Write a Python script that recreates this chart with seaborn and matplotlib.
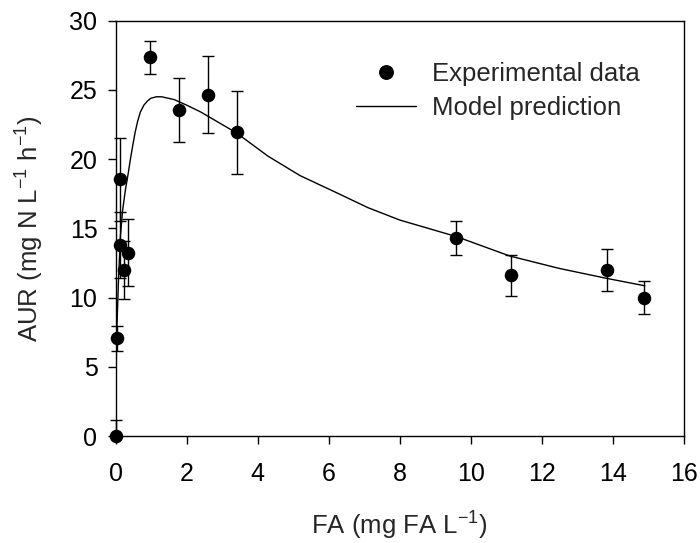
import numpy as np
import pandas as pd
import matplotlib
matplotlib.use("Agg")
import matplotlib.pyplot as plt
import seaborn as sns
from matplotlib.lines import Line2D

fa = [0.0, 0.05, 0.13, 0.14, 0.24, 0.35, 0.98, 1.79, 2.61, 3.41, 9.58, 11.13, 13.83, 14.87]
aur = [0.0, 7.05, 18.55, 13.8, 11.97, 13.25, 27.35, 23.55, 24.65, 21.95, 14.3, 11.6, 12.0, 10.0]
err_low = [0.0, 0.9, 3.0, 2.4, 2.1, 2.4, 1.2, 2.3, 2.8, 3.0, 1.2, 1.47, 1.5, 1.2]
err_high = [1.15, 0.9, 3.0, 2.4, 2.1, 2.4, 1.2, 2.3, 2.8, 3.0, 1.2, 1.47, 1.5, 1.2]

# model prediction curve
model_fa = [0.0, 0.03, 0.08, 0.14, 0.2, 0.28, 0.36, 0.42, 0.48, 0.55, 0.62, 0.7, 0.8, 0.9,
            1.0, 1.15, 1.3, 1.65, 2.0, 2.4, 3.0, 3.4, 4.3, 5.2, 6.2, 7.1, 8.0, 9.6, 11.1,
            12.5, 13.8, 14.9]
model_aur = [0.0, 7.0, 11.0, 14.5, 16.3, 17.8, 19.0, 20.0, 20.9, 21.9, 22.7, 23.4, 23.9, 24.2,
             24.4, 24.5, 24.5, 24.3, 23.9, 23.4, 22.5, 21.9, 20.2, 18.8, 17.6, 16.5, 15.6,
             14.4, 13.0, 12.1, 11.4, 10.85]

x_ticks = [0, 2, 4, 6, 8, 10, 12, 14, 16]
y_ticks = [0, 5, 10, 15, 20, 25, 30]

sns.set_theme(style="ticks")
plt.rcParams["font.family"] = ["Liberation Sans", "DejaVu Sans"]
plt.rcParams["mathtext.fontset"] = "custom"
plt.rcParams["mathtext.rm"] = "Liberation Sans"
plt.rcParams["mathtext.default"] = "regular"

df = pd.DataFrame({"fa": fa, "aur": aur})
model = pd.DataFrame({"fa": model_fa, "aur": model_aur})

fig = plt.figure(figsize=(7, 5.43), dpi=100)
ax = fig.add_axes([0.165, 0.197, 0.812, 0.765])

sns.lineplot(data=model, x="fa", y="aur", ax=ax, color="black", linewidth=1.0,
             sort=False, estimator=None, zorder=2)
ax.errorbar(df["fa"], df["aur"], yerr=[err_low, err_high], fmt="none", ecolor="black",
            elinewidth=1.0, capsize=4.3, capthick=1.0, zorder=3, clip_on=False)
sns.scatterplot(data=df, x="fa", y="aur", ax=ax, color="black", s=95,
                edgecolor="black", linewidth=0, zorder=4, clip_on=False)

ax.set_xlim(0, 16)
ax.set_ylim(0, 30)
ax.set_xticks(x_ticks)
ax.set_yticks(y_ticks)
ax.tick_params(axis="both", direction="out", length=6, width=1, color="black",
               labelsize=18, labelcolor="black")
ax.tick_params(axis="x", pad=13)
ax.tick_params(axis="y", pad=7)
for s in ax.spines.values():
    s.set_visible(True)
    s.set_color("black")
    s.set_linewidth(1)

ax.set_xlabel("FA (mg FA L$^{-1}$)", fontsize=18.5, labelpad=17)
ax.set_ylabel("AUR (mg N L$^{-1}$ h$^{-1}$)", fontsize=18.5, labelpad=17)

handles = [
    Line2D([], [], marker="o", linestyle="none", color="black", markersize=9.7),
    Line2D([], [], color="black", linewidth=1.0),
]
ax.legend(handles, ["Experimental data", "Model prediction"], frameon=False,
          fontsize=18.5, loc="upper left", bbox_to_anchor=(356 / 700, 1 - 62 / 543),
          bbox_transform=fig.transFigure, borderpad=0, borderaxespad=0,
          handlelength=2.35, handletextpad=0.6, labelspacing=0.4)

fig.savefig("out.png", dpi=100)
